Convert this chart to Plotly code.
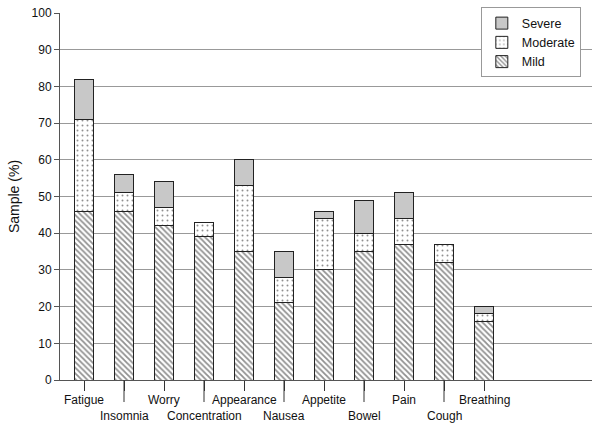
import plotly.graph_objects as go

categories = ["Fatigue", "Insomnia", "Worry", "Concentration", "Appearance", "Nausea",
              "Appetite", "Bowel", "Pain", "Cough", "Breathing"]
mild = [46, 46, 42, 39, 35, 21, 30, 35, 37, 32, 16]
moderate = [25, 5, 5, 4, 18, 7, 14, 5, 7, 5, 2]
severe = [11, 5, 7, 0, 7, 7, 2, 9, 7, 0, 2]
y_ticks = list(range(0, 101, 10))

line = dict(color="#222222", width=1)
fig = go.Figure()
fig.add_trace(go.Bar(name="Mild", x=categories, y=mild, width=0.48,
                     marker=dict(color="white", line=line,
                                 pattern=dict(shape="\\", fgcolor="#222222", bgcolor="white",
                                              size=4, solidity=0.45))))
fig.add_trace(go.Bar(name="Moderate", x=categories, y=moderate, width=0.48,
                     marker=dict(color="white", line=line,
                                 pattern=dict(shape=".", fgcolor="#222222", bgcolor="white",
                                              size=5, solidity=0.12))))
fig.add_trace(go.Bar(name="Severe", x=categories, y=severe, width=0.48,
                     marker=dict(color="#c8c8c8", line=line)))

font = dict(family="Liberation Sans, Arial, sans-serif", size=12, color="#111111")

annotations = []
shapes = []
for i, c in enumerate(categories):
    second = i % 2 == 1
    annotations.append(dict(x=c, y=0, xref="x", yref="paper", text=c, showarrow=False,
                            yanchor="top", yshift=-(27 if second else 11), font=font))
    if second:
        shapes.append(dict(type="line", x0=i, x1=i, xref="x", y0=0, y1=-0.06, yref="paper",
                           line=dict(color="#333333", width=1)))

fig.update_layout(
    barmode="stack",
    width=600, height=430,
    margin=dict(l=60, r=8, t=13, b=50, autoexpand=False),
    paper_bgcolor="white", plot_bgcolor="white",
    font=font,
    showlegend=True,
    legend=dict(x=0.979, y=1.015, xanchor="right", yanchor="top", traceorder="reversed",
                bgcolor="white", bordercolor="#999999", borderwidth=1,
                font=dict(family="Liberation Sans, Arial, sans-serif", size=12.5),
                itemwidth=30, tracegroupgap=0),
    annotations=annotations,
    shapes=shapes,
)
fig.update_xaxes(range=[-0.6, 12.7], showticklabels=False, ticks="outside", ticklen=10,
                 tickcolor="#333333", showline=True, linecolor="#555555", linewidth=1,
                 showgrid=False, automargin=False)
fig.update_yaxes(range=[0, 100], tickvals=y_ticks, ticks="outside", ticklen=5,
                 tickcolor="#555555", showline=True, linecolor="#555555", linewidth=1,
                 showgrid=True, gridcolor="#999999", gridwidth=1, zeroline=False,
                 automargin=False,
                 title=dict(text="Sample (%)", font=dict(size=14), standoff=8))

fig.write_html("out.html", config={"displayModeBar": False},
               post_script="document.body.style.margin='0';")
